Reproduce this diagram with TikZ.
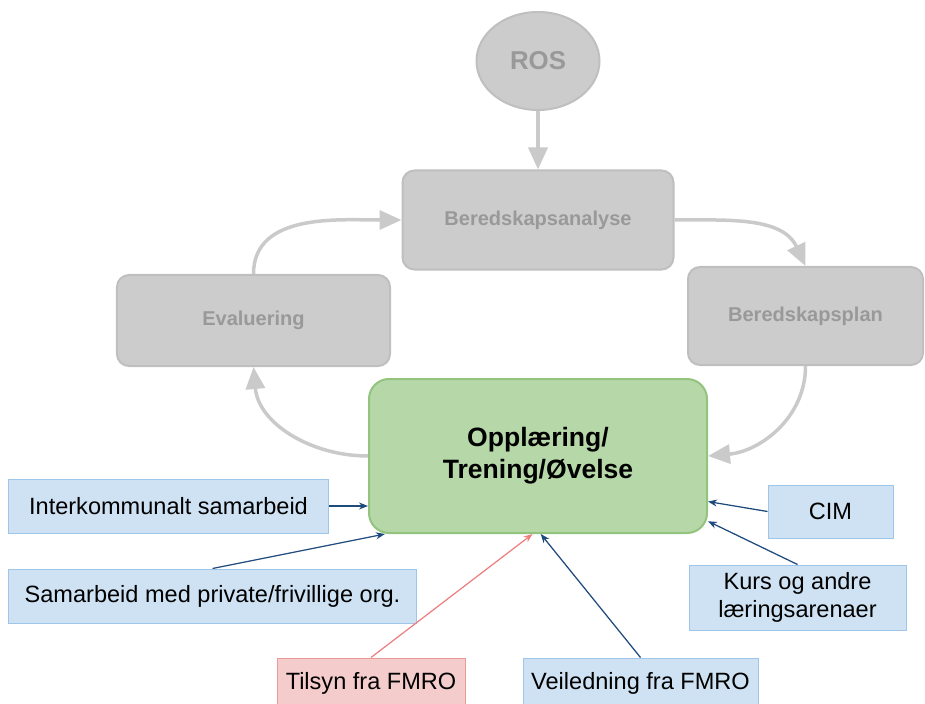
\documentclass[tikz,border=0pt]{standalone}
\usepackage{fontspec}
\setmainfont{Liberation Sans}
\definecolor{BoxGray}{HTML}{CCCCCC}
\definecolor{EdgeGray}{HTML}{BFBFBF}
\definecolor{TextGray}{HTML}{999999}
\definecolor{LineGray}{HTML}{CACACA}
\definecolor{TrainGreen}{HTML}{B6D7A8}
\definecolor{TrainEdge}{HTML}{93C47D}
\definecolor{SrcBlue}{HTML}{CFE2F3}
\definecolor{SrcEdge}{HTML}{9FC5E8}
\definecolor{SrcRed}{HTML}{F4CCCC}
\definecolor{RedEdge}{HTML}{EA9999}
\definecolor{LinkBlue}{HTML}{1F4A7C}
\definecolor{LinkRed}{HTML}{EC8080}
\usetikzlibrary{positioning, shapes, arrows.meta, calc}

\tikzset{
  stage/.style={rectangle, rounded corners=2.4mm, fill=BoxGray, draw=EdgeGray, line width=0.4mm,
    text=TextGray, font=\fontsize{11.4}{13}\selectfont\bfseries, inner sep=0pt},
  source/.style={rectangle, fill=SrcBlue, draw=SrcEdge, line width=0.2mm,
    font=\fontsize{13.4}{16}\selectfont, align=center, inner sep=0pt},
  cyclearrow/.style={draw=LineGray, line width=0.7mm, -{Triangle[length=4.4mm,width=3.8mm]}},
  feed/.style={draw=LinkBlue, line width=0.25mm, -{Stealth[length=1.8mm,width=1.4mm]}}
}

\begin{document}
\begin{tikzpicture}[x=0.2mm, y=-0.2mm]
\clip (0,0) rectangle (925,704);
% planning cycle
\node[ellipse, fill=BoxGray, draw=EdgeGray, line width=0.4mm, text=TextGray,
  font=\fontsize{14.7}{17}\selectfont\bfseries, minimum width=24.6mm, minimum height=19.6mm,
  inner sep=0pt] (ros) at (538,61) {ROS};
\node[stage, minimum width=54.2mm, minimum height=19.8mm] (analyse) at (538,220) {Beredskapsanalyse};
\node[stage, minimum width=47mm, minimum height=19.6mm] (plan) at (805.5,316) {Beredskapsplan};
\node[stage, minimum width=54.6mm, minimum height=18.2mm] (evaluering) at (253.5,320.5) {Evaluering};
\node[rectangle, rounded corners=4mm, fill=TrainGreen, draw=TrainEdge, line width=0.4mm,
  font=\fontsize{15.1}{18.2}\selectfont\bfseries, align=center, minimum width=67.6mm,
  minimum height=30.8mm] (training) at (538,456) {Opplæring/\\Trening/Øvelse};

\draw[cyclearrow] (ros) -- (analyse);
\draw[cyclearrow] (analyse.east) to[out=0, in=115] (plan.north);
\draw[cyclearrow] (plan.south) to[out=-90, in=5] (training.east);
\draw[cyclearrow] (training.west) to[out=180, in=-85] (evaluering.south);
\draw[cyclearrow] (evaluering.north) to[out=90, in=180] (analyse.west);

% inputs
\node[source, minimum width=63.8mm, minimum height=10.8mm] (inter) at (168.5,506) {Interkommunalt samarbeid};
\node[source, minimum width=81.4mm, minimum height=10.8mm] (samarb) at (212.5,596) {Samarbeid med private/frivillige org.};
\node[source, minimum width=25mm, minimum height=10.6mm] (cim) at (830.5,511.5) {CIM};
\node[source, minimum width=43.4mm, minimum height=13mm] (kurs) at (797.5,597.5) {Kurs og andre\\læringsarenaer};
\node[source, fill=SrcRed, draw=RedEdge, minimum width=37.6mm, minimum height=10mm] (tilsyn) at (371,683) {Tilsyn fra FMRO};
\node[source, minimum width=47mm, minimum height=10mm] (veiledning) at (640.5,683) {Veiledning fra FMRO};

\draw[feed] (inter.east) -- (inter.east -| training.west);
\draw[feed] (samarb.north) -- (training.207);
\draw[feed] (cim.west) -- (training.-15);
\draw[feed] (kurs.north) -- (training.-21);
\draw[feed, draw=LinkRed] (tilsyn.north) -- (training.266);
\draw[feed] (veiledning.north) -- (training.272);
\end{tikzpicture}
\end{document}
